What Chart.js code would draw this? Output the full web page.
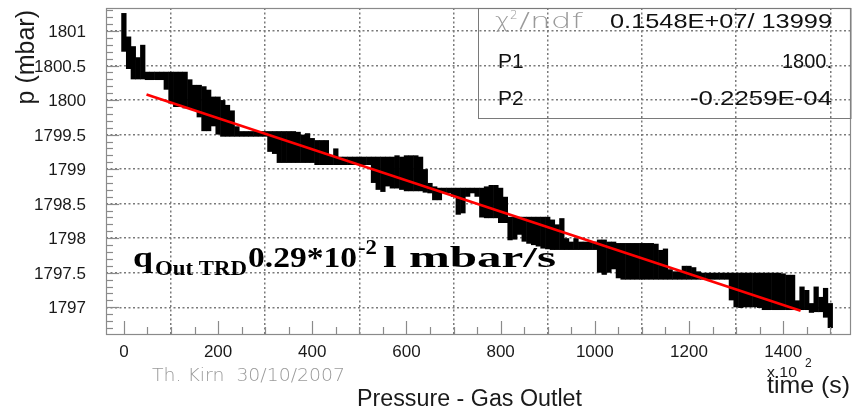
<!DOCTYPE html>
<html>
<head>
<meta charset="utf-8">
<script src="https://cdn.jsdelivr.net/npm/chart.js@4.4.1/dist/chart.umd.min.js"></script>
<style>
  html, body { margin: 0; padding: 0; background: #fff; }
  #wrap { width: 857px; height: 412px; }
</style>
</head>
<body>
<div id="wrap"><canvas id="pressure-chart" width="857" height="412"></canvas></div>
<script>
// time axis is in units of 100 s; each bin carries the min/max pressure seen in it (mbar)
const timeBins = [
    0,   10,   20,   30,   40,   50,   60,   70,   80,   90,
  100,  110,  120,  130,  140,  150,  160,  170,  180,  190,
  200,  210,  220,  230,  240,  250,  260,  270,  280,  290,
  300,  310,  320,  330,  340,  350,  360,  370,  380,  390,
  400,  410,  420,  430,  440,  450,  460,  470,  480,  490,
  500,  510,  520,  530,  540,  550,  560,  570,  580,  590,
  600,  610,  620,  630,  640,  650,  660,  670,  680,  690,
  700,  710,  720,  730,  740,  750,  760,  770,  780,  790,
  800,  810,  820,  830,  840,  850,  860,  870,  880,  890,
  900,  910,  920,  930,  940,  950,  960,  970,  980,  990,
 1000, 1010, 1020, 1030, 1040, 1050, 1060, 1070, 1080, 1090,
 1100, 1110, 1120, 1130, 1140, 1150, 1160, 1170, 1180, 1190,
 1200, 1210, 1220, 1230, 1240, 1250, 1260, 1270, 1280, 1290,
 1300, 1310, 1320, 1330, 1340, 1350, 1360, 1370, 1380, 1390,
 1400, 1410, 1420, 1430, 1440, 1450, 1460, 1470, 1480, 1490,
 1500
];

const pressureLow = [
  1800.70, 1800.45, 1800.30, 1800.30, 1800.30, 1800.29, 1800.29, 1800.29, 1800.29, 1800.15,
  1799.95, 1799.90, 1799.90, 1799.88, 1799.88, 1799.85, 1799.75, 1799.55, 1799.55, 1799.62,
  1799.50, 1799.47, 1799.47, 1799.47, 1799.47, 1799.47, 1799.47, 1799.47, 1799.47, 1799.47,
  1799.47, 1799.25, 1799.22, 1799.09, 1799.09, 1799.09, 1799.09, 1799.09, 1799.09, 1799.09,
  1799.09, 1799.06, 1799.06, 1799.06, 1799.06, 1799.06, 1799.06, 1799.06, 1799.06, 1799.06,
  1799.06, 1799.06, 1799.06, 1798.80, 1798.70, 1798.67, 1798.75, 1798.72, 1798.72, 1798.70,
  1798.68, 1798.68, 1798.68, 1798.68, 1798.66, 1798.65, 1798.55, 1798.55, 1798.65, 1798.65,
  1798.60, 1798.34, 1798.36, 1798.60, 1798.65, 1798.60, 1798.30, 1798.29, 1798.29, 1798.29,
  1798.22, 1798.22, 1797.97, 1797.98, 1798.05, 1797.95, 1797.92, 1797.90, 1797.88, 1797.85,
  1797.84, 1797.83, 1797.83, 1797.83, 1797.83, 1797.83, 1797.83, 1797.83, 1797.83, 1797.83,
  1797.83, 1797.50, 1797.47, 1797.50, 1797.55, 1797.42, 1797.40, 1797.40, 1797.40, 1797.40,
  1797.40, 1797.40, 1797.40, 1797.40, 1797.40, 1797.40, 1797.40, 1797.40, 1797.40, 1797.40,
  1797.40, 1797.40, 1797.40, 1797.40, 1797.40, 1797.40, 1797.40, 1797.40, 1797.40, 1797.10,
  1797.00, 1796.99, 1797.00, 1797.00, 1797.00, 1796.99, 1796.96, 1796.96, 1796.96, 1796.96,
  1796.96, 1796.96, 1796.96, 1796.96, 1796.96, 1796.96, 1796.92, 1796.93, 1796.93, 1796.85,
  1796.70
];

const pressureHigh = [
  1801.26, 1800.92, 1800.78, 1800.62, 1800.80, 1800.41, 1800.41, 1800.41, 1800.41, 1800.41,
  1800.41, 1800.41, 1800.41, 1800.41, 1800.30, 1800.22, 1800.22, 1800.20, 1800.15, 1800.05,
  1800.05, 1800.00, 1799.93, 1799.85, 1799.62, 1799.55, 1799.55, 1799.55, 1799.55, 1799.55,
  1799.55, 1799.55, 1799.55, 1799.55, 1799.55, 1799.55, 1799.55, 1799.54, 1799.50, 1799.52,
  1799.45, 1799.42, 1799.42, 1799.42, 1799.20, 1799.30, 1799.18, 1799.18, 1799.18, 1799.18,
  1799.18, 1799.18, 1799.18, 1799.18, 1799.18, 1799.18, 1799.18, 1799.18, 1799.20, 1799.18,
  1799.20, 1799.20, 1799.20, 1799.18, 1799.00, 1798.80, 1798.75, 1798.73, 1798.73, 1798.73,
  1798.73, 1798.73, 1798.73, 1798.73, 1798.73, 1798.73, 1798.73, 1798.75, 1798.77, 1798.77,
  1798.73, 1798.60, 1798.31, 1798.31, 1798.31, 1798.31, 1798.31, 1798.31, 1798.31, 1798.31,
  1798.31, 1798.27, 1798.20, 1798.29, 1798.00, 1797.95, 1798.00, 1797.95, 1797.95, 1797.95,
  1797.95, 1797.98, 1797.98, 1797.95, 1797.95, 1797.93, 1797.93, 1797.93, 1797.93, 1797.93,
  1797.93, 1797.93, 1797.93, 1797.92, 1797.83, 1797.85, 1797.55, 1797.52, 1797.52, 1797.60,
  1797.60, 1797.58, 1797.52, 1797.50, 1797.50, 1797.50, 1797.50, 1797.50, 1797.50, 1797.50,
  1797.50, 1797.50, 1797.50, 1797.50, 1797.50, 1797.50, 1797.50, 1797.50, 1797.50, 1797.50,
  1797.49, 1797.47, 1797.47, 1797.10, 1797.30, 1797.25, 1797.06, 1797.30, 1797.15, 1797.28,
  1797.06
];

// straight-line fit p = P1 + P2*t, end points of the drawn segment
const fitTime = [48, 1437];
const fitPressure = [1800.08, 1796.95];

const xTicks = [0, 200, 400, 600, 800, 1000, 1200, 1400];
const xTickLabels = ['0', '200', '400', '600', '800', '1000', '1200', '1400'];
const yTicks = [1797, 1797.5, 1798, 1798.5, 1799, 1799.5, 1800, 1800.5, 1801];
const yTickLabels = ['1797', '1797.5', '1798', '1798.5', '1799', '1799.5', '1800', '1800.5', '1801'];

const statNames = ['P1', 'P2'];
const statValues = ['0.1548E+07/ 13999', '1800.', '-0.2259E-04'];

const SANS = '"Liberation Sans", Arial, sans-serif';
const THIN = '"DejaVu Sans", "Liberation Sans", sans-serif';
const SERIF = '"Liberation Serif", "Times New Roman", serif';

// draw text, optionally squeezed/stretched horizontally to a given width
function put(ctx, text, x, y, font, color, align, width) {
    ctx.save();
    ctx.font = font;
    ctx.fillStyle = color;
    ctx.textBaseline = 'alphabetic';
    ctx.textAlign = align || 'left';
    const w = ctx.measureText(text).width;
    ctx.translate(x, y);
    if (width) ctx.scale(width / w, 1);
    ctx.fillText(text, 0, 0);
    ctx.restore();
}

function seg(ctx, x1, y1, x2, y2) {
    ctx.beginPath();
    ctx.moveTo(x1, y1);
    ctx.lineTo(x2, y2);
    ctx.stroke();
}

const rootFrame = {
    id: 'rootFrame',
    afterDatasetsDraw(chart) {
        const { ctx, chartArea: a, scales: { x, y } } = chart;
        ctx.save();

        // frame
        ctx.strokeStyle = '#8a8a8a';
        ctx.lineWidth = 1.2;
        ctx.strokeRect(a.left + 0.5, a.top + 0.5, a.right - a.left - 1, a.bottom - a.top);

        // ticks: major every 0.5 mbar / 200, minor every 0.1 mbar / 50
        for (let k = Math.ceil(y.min * 10); k <= Math.floor(y.max * 10); k++) {
            const py = Math.round(y.getPixelForValue(k / 10)) + 0.5;
            seg(ctx, a.left, py, a.left + (k % 5 === 0 ? 13 : 7), py);
        }
        for (let k = 0; k * 50 <= x.max; k++) {
            const px = Math.round(x.getPixelForValue(k * 50)) + 0.5;
            seg(ctx, px, a.bottom, px, a.bottom - (k % 4 === 0 ? 13 : 7));
        }

        // tick labels
        yTicks.forEach((v, i) => {
            put(ctx, yTickLabels[i], 86, y.getPixelForValue(v) + 6, '17px ' + SANS, '#1a1a1a', 'right');
        });
        xTicks.forEach((v, i) => {
            put(ctx, xTickLabels[i], x.getPixelForValue(v), 357, '17px ' + SANS, '#1a1a1a', 'center');
        });

        // axis titles
        ctx.save();
        ctx.translate(34, 10);
        ctx.rotate(-Math.PI / 2);
        put(ctx, 'p (mbar)', 0, 0, '25px ' + SANS, '#1a1a1a', 'right');
        ctx.restore();
        put(ctx, 'x 10', 767, 377, '14px ' + SANS, '#1a1a1a', 'left', 30);
        put(ctx, '2', 805, 367, '12px ' + SANS, '#1a1a1a', 'left');
        put(ctx, 'time (s)', 850, 393, '24px ' + SANS, '#1a1a1a', 'right', 83);
        put(ctx, 'Pressure - Gas Outlet', 357, 406, '23px ' + SANS, '#1a1a1a', 'left', 225);
        put(ctx, 'Th. Kirn  30/10/2007', 152, 381, '200 17px ' + THIN, '#9a9a9a', 'left', 193);

        // fit statistics box
        ctx.strokeStyle = '#7a7a7a';
        ctx.lineWidth = 1;
        ctx.strokeRect(478.5, a.top + 0.5, a.right - 478.5, 110);
        put(ctx, 'χ', 495, 28, '200 22px ' + THIN, '#9a9a9a', 'left', 15);
        put(ctx, '2', 510, 19, '200 12px ' + THIN, '#9a9a9a', 'left');
        put(ctx, '/ndf', 519, 28, '200 21px ' + THIN, '#9a9a9a', 'left', 64);
        put(ctx, statNames[0], 498, 68, '21px ' + SANS, '#111', 'left');
        put(ctx, statNames[1], 498, 105, '21px ' + SANS, '#111', 'left');
        put(ctx, statValues[0], 832, 28, '21px ' + SANS, '#111', 'right', 222);
        put(ctx, statValues[1], 832, 68, '21px ' + SANS, '#111', 'right', 50);
        put(ctx, statValues[2], 832, 105, '21px ' + SANS, '#111', 'right', 142);

        // leak rate annotation
        put(ctx, 'q', 133, 267, 'bold 29px ' + SERIF, '#000', 'left', 20);
        put(ctx, 'Out TRD', 155, 275, 'bold 20px ' + SERIF, '#000', 'left', 92);
        put(ctx, '0.29*10', 248, 267, 'bold 29px ' + SERIF, '#000', 'left', 109);
        put(ctx, '-2', 358, 254, 'bold 20px ' + SERIF, '#000', 'left', 19);
        put(ctx, 'l mbar/s', 383, 267, 'bold 29px ' + SERIF, '#000', 'left', 173);

        ctx.restore();
    }
};

const pressureBars = timeBins.map((t, i) => ({ x: t, y: [pressureLow[i], pressureHigh[i]] }));
const fitLine = fitTime.map((t, i) => ({ x: t, y: fitPressure[i] }));

// dotted grid at the major ticks only; labels and tick marks come from the plugin
const dottedGrid = {
    color: '#7a7a7a',
    lineWidth: 1.5,
    drawTicks: false
};

new Chart(document.getElementById('pressure-chart'), {
    type: 'bar',
    data: {
        datasets: [
            {
                type: 'line',
                label: 'fit',
                data: fitLine,
                borderColor: '#ff0000',
                borderWidth: 2.6,
                pointRadius: 0,
                order: 0
            },
            {
                label: 'p',
                data: pressureBars,
                backgroundColor: '#000',
                borderWidth: 0,
                categoryPercentage: 1,
                barPercentage: 1.12,
                order: 1
            }
        ]
    },
    options: {
        responsive: false,
        animation: false,
        devicePixelRatio: 1,
        layout: { padding: { left: 106, top: 8, right: 6, bottom: 78 } },
        plugins: { legend: { display: false }, tooltip: { enabled: false } },
        events: [],
        scales: {
            x: {
                type: 'linear', offset: false, min: -38, max: 1544,
                afterBuildTicks: s => { s.ticks = xTicks.map(v => ({ value: v })); },
                ticks: { display: false },
                grid: dottedGrid,
                border: { display: false, dash: [2, 2.5] }
            },
            y: {
                type: 'linear', min: 1796.613, max: 1801.333,
                afterBuildTicks: s => { s.ticks = yTicks.map(v => ({ value: v })); },
                ticks: { display: false },
                grid: dottedGrid,
                border: { display: false, dash: [2, 2.5] }
            }
        }
    },
    plugins: [rootFrame]
});
</script>
</body>
</html>
